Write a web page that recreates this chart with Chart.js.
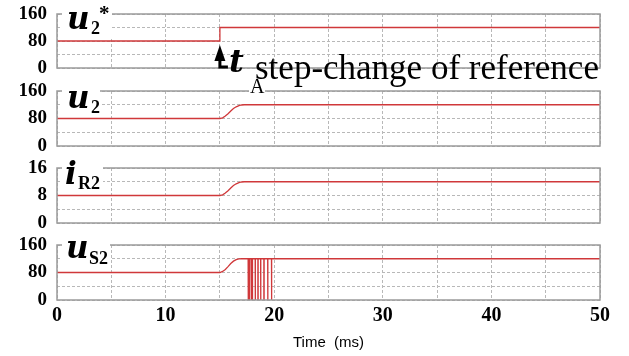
<!DOCTYPE html>
<html>
<head>
<meta charset="utf-8">
<script src="https://cdn.jsdelivr.net/npm/chart.js@4.4.1/dist/chart.umd.min.js"></script>
<style>
  html, body { margin: 0; padding: 0; background: #fff; }
  body { width: 629px; height: 356px; position: relative; overflow: hidden; }
  .panel { position: absolute; left: 0; width: 629px; }
  .t { position: absolute; line-height: 1; white-space: nowrap; color: #000; }
  .sym { font-family: "DejaVu Serif", serif; font-weight: bold; font-style: italic; font-size: 31px; }
  .sub { font-family: "Liberation Serif", serif; font-weight: bold; font-size: 18px; }
  .bg { position: absolute; background: #fff; }
</style>
</head>
<body>
<div class="panel" style="top:0;height:82px"><canvas id="c1"></canvas></div>
<div class="panel" style="top:80px;height:78px"><canvas id="c2"></canvas></div>
<div class="panel" style="top:157px;height:78px"><canvas id="c3"></canvas></div>
<div class="panel" style="top:233px;height:123px"><canvas id="c4"></canvas></div>

<!-- etiquetas de cada panel (el fondo blanco tapa el borde superior) -->
<div class="bg" style="left:62px;top:4px;width:50px;height:34px"></div>
<div class="t sym" style="left:67px;top:3px">u</div>
<div class="t sub" style="left:91px;top:19px">2</div>
<div class="t sub" style="left:99px;top:3px;font-size:21px">*</div>

<div class="bg" style="left:62px;top:84px;width:38px;height:30px"></div>
<div class="t sym" style="left:67px;top:82px">u</div>
<div class="t sub" style="left:91px;top:98px">2</div>

<div class="bg" style="left:62px;top:161px;width:41px;height:30px"></div>
<div class="t sym" style="left:65px;top:158px">i</div>
<div class="t sub" style="left:78px;top:174px">R2</div>

<div class="bg" style="left:62px;top:238px;width:48px;height:30px"></div>
<div class="t sym" style="left:66px;top:232px">u</div>
<div class="t sub" style="left:89px;top:249px">S2</div>

<!-- anotación t_A -->
<div class="t sym" style="left:229px;top:45px;font-size:32px">t</div>
<div class="t" style="left:249px;top:76px;font-family:'Liberation Serif',serif;font-size:20px;background:#fff;padding:0 1px">A</div>
<div class="t" style="left:255px;top:50px;font-family:'Liberation Serif',serif;font-size:35px">step-change of reference</div>

<script>
// --- datos (tiempo en ms) ---
const xTicks = [0, 10, 20, 30, 40, 50];
const uTicks = [0, 80, 160];
const iTicks = [0, 8, 16];

const refTime = [0, 15, 15, 50];
const refValue = [80, 80, 120, 120];

const u2Time = [0, 15, 15.25, 15.5, 15.75, 16, 16.25, 16.5, 16.75, 17, 17.25, 50];
const u2Value = [80, 80, 82, 87, 94, 102, 109, 114, 117.5, 119.3, 120, 120];

const iR2Time = [0, 15, 15.25, 15.5, 15.75, 16, 16.25, 16.5, 16.75, 17, 17.25, 50];
const iR2Value = [8, 8, 8.2, 8.7, 9.4, 10.2, 10.9, 11.4, 11.75, 11.93, 12, 12];

// u_S2: subida suave y luego pulsos de conmutación (caídas a 0)
const uS2Time = [0, 15, 15.25, 15.5, 15.75, 16, 16.25, 16.5, 16.75, 17,
  17.6, 17.6, 17.62, 17.62,
  17.72, 17.72, 17.74, 17.74,
  17.88, 17.88, 17.9, 17.9,
  17.94, 17.94, 17.96, 17.96,
  18.0, 18.0, 18.02, 18.02,
  18.25, 18.25, 18.27, 18.27,
  18.5, 18.5, 18.52, 18.52,
  18.75, 18.75, 18.77, 18.77,
  19.05, 19.05, 19.07, 19.07,
  19.4, 19.4, 19.42, 19.42,
  19.75, 19.75, 19.77, 19.77, 50];
const uS2Value = [80, 80, 83, 89, 97, 106, 113, 117.5, 119.5, 120,
  120, 0, 0, 120,
  120, 0, 0, 120,
  120, 0, 0, 120,
  120, 0, 0, 120,
  120, 0, 0, 120,
  120, 0, 0, 120,
  120, 0, 0, 120,
  120, 0, 0, 120,
  120, 0, 0, 120,
  120, 0, 0, 120,
  120, 0, 0, 120, 120];

const AXIS_LEFT = 57;
const RIGHT_PAD = 29;
const gridGray = '#b8b8b8';
const boxGray = '#9a9a9a';
const lineRed = '#d0383a';

function toPoints(xs, ys) {
  return xs.map((x, i) => ({ x: x, y: ys[i] }));
}

// caja gris alrededor del área + flecha de t_A
const boxPlugin = {
  id: 'boxPlugin',
  afterDraw(chart) {
    const a = chart.chartArea;
    const ctx = chart.ctx;
    ctx.save();
    ctx.strokeStyle = boxGray;
    ctx.lineWidth = 1.5;
    ctx.strokeRect(a.left, a.top, a.right - a.left, a.bottom - a.top);
    ctx.restore();
    const at = chart.config.options.arrowAt;
    if (at !== undefined) {
      const x = chart.scales.x.getPixelForValue(at);
      ctx.save();
      ctx.fillStyle = '#000';
      ctx.strokeStyle = '#000';
      ctx.lineWidth = 3;
      ctx.beginPath();
      ctx.moveTo(x, 45);
      ctx.lineTo(x - 5.5, 61);
      ctx.lineTo(x + 5.5, 61);
      ctx.closePath();
      ctx.fill();
      ctx.beginPath();
      ctx.moveTo(x, 59);
      ctx.lineTo(x, 67);
      ctx.lineTo(x + 8, 67);
      ctx.stroke();
      ctx.restore();
    }
  }
};

function makePanel(id, xs, ys, yMax, yStep, yLabels, opts) {
  const lastPanel = opts.showX;
  const chart = new Chart(document.getElementById(id), {
    type: 'line',
    data: {
      datasets: [{
        data: toPoints(xs, ys),
        borderColor: lineRed,
        borderWidth: 1.3,
        pointRadius: 0,
        tension: 0,
        fill: false
      }]
    },
    options: {
      responsive: true,
      maintainAspectRatio: false,
      animation: false,
      events: [],
      arrowAt: opts.arrowAt,
      layout: { autoPadding: false, padding: { top: opts.top, right: RIGHT_PAD, left: 0, bottom: 0 } },
      plugins: { legend: { display: false }, tooltip: { enabled: false } },
      scales: {
        x: {
          type: 'linear',
          min: 0,
          max: 50,
          afterFit: (s) => { s.height = opts.xh; },
          ticks: {
            display: lastPanel,
            stepSize: 5,
            autoSkip: false,
            maxRotation: 0,
            padding: 4,
            color: '#000',
            font: { family: 'Liberation Serif', size: 20, weight: 'bold' },
            callback: (v) => xTicks.includes(v) ? String(v) : ''
          },
          grid: { color: gridGray, drawTicks: false, lineWidth: 1 },
          border: { display: false, dash: [3, 2] },
          title: {
            display: lastPanel,
            text: 'Time  (ms)',
            color: '#000',
            font: { family: 'Liberation Sans', size: 15 },
            padding: { top: 0, bottom: 4 }
          }
        },
        y: {
          min: 0,
          max: yMax,
          afterFit: (s) => { s.width = AXIS_LEFT; },
          ticks: {
            stepSize: yStep,
            autoSkip: false,
            padding: 0,
            color: '#000',
            font: { family: 'Liberation Serif', size: 19, weight: 'bold', lineHeight: 1 },
            callback: (v) => yLabels.includes(v) ? String(v) : ''
          },
          // marcas invisibles: solo separan las etiquetas del eje
          grid: { color: gridGray, drawTicks: true, tickLength: 10, tickColor: 'rgba(0,0,0,0)', lineWidth: 1 },
          border: { display: false, dash: [3, 2] }
        }
      }
    },
    plugins: [boxPlugin]
  });
  fitArea(chart, opts.top, opts.bottom);
  return chart;
}

// ajusta el padding hasta que el área del gráfico quede donde está en la imagen
function fitArea(chart, top, bottom) {
  let pt = top, pb = 0;
  for (let k = 0; k < 6; k++) {
    const a = chart.chartArea;
    const dt = top - a.top;
    const db = a.bottom - bottom;
    if (Math.abs(dt) < 0.2 && Math.abs(db) < 0.2) break;
    pt += dt;
    pb += db;
    chart.config.options.layout.padding = { top: pt, right: RIGHT_PAD, left: 0, bottom: pb };
    chart.update();
  }
}

// top/bottom del área en coordenadas del canvas de cada panel
makePanel('c1', refTime, refValue, 160, 40, uTicks, { top: 14, bottom: 68, xh: 0, showX: false, arrowAt: 15 });
makePanel('c2', u2Time, u2Value, 160, 40, uTicks, { top: 11, bottom: 66, xh: 0, showX: false });
makePanel('c3', iR2Time, iR2Value, 16, 4, iTicks, { top: 11, bottom: 66, xh: 0, showX: false });
makePanel('c4', uS2Time, uS2Value, 160, 40, uTicks, { top: 12, bottom: 67, xh: 56, showX: true });
</script>
</body>
</html>
